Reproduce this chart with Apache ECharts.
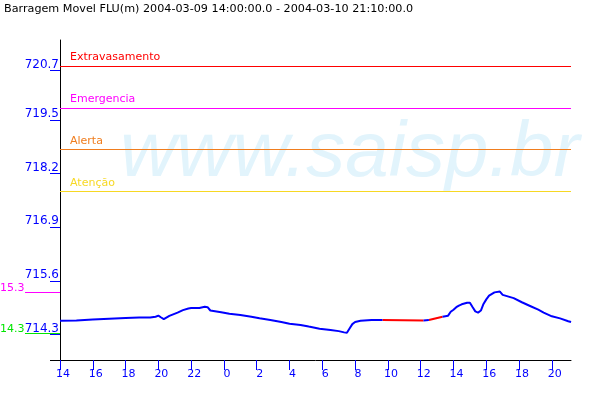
<!DOCTYPE html>
<html><head><meta charset="utf-8">
<script src="https://cdn.jsdelivr.net/npm/echarts@6/dist/echarts.min.js"></script>
<style>html,body{margin:0;padding:0;background:#fff}#c{width:600px;height:400px}</style>
</head><body><div id="c"></div>
<script>
// ---- data ----
const titleText = 'Barragem Movel FLU(m) 2004-03-09 14:00:00.0 - 2004-03-10 21:10:00.0';
const startHour = 14;                 // 2004-03-09 14:00
const spanHours = 31 + 10 / 60;       // until 2004-03-10 21:10
const xTickHours = [0, 2, 4, 6, 8, 10, 12, 14, 16, 18, 20, 22, 24, 26, 28, 30];
const yTickValues = [714.3, 715.6, 716.9, 718.2, 719.5, 720.7];
const yMin = 713.68, yMax = 721.44;
// hours elapsed since start
const hours = [0, 1, 2, 3, 4, 4.83, 5.5, 5.83, 6, 6.17, 6.33, 6.67, 7.17, 7.5, 7.83, 8, 8.5, 8.83, 9, 9.17,
  9.83, 10.33, 11, 11.67, 12.17, 12.83, 13.5, 14, 14.67, 15.17, 15.83, 16.5, 17, 17.33, 17.5, 17.67, 17.83,
  18, 18.33, 19, 19.67, 21, 22.17, 22.5, 23, 23.33, 23.67, 23.83, 24, 24.17, 24.33, 24.5, 24.83, 25, 25.17,
  25.33, 25.5, 25.67, 25.83, 26, 26.17, 26.5, 26.83, 27, 27.67, 28.17, 28.67, 29.17, 29.5, 30, 30.5, 31, 31.17];
// level (m); null = missing reading
const levels = [714.63, 714.64, 714.66, 714.68, 714.70, 714.71, 714.71, 714.73, 714.755, 714.71, 714.67, 714.75, 714.83, 714.89, 714.93, 714.94,
  714.94, 714.97, 714.96, 714.88, 714.84, 714.80, 714.77, 714.73, 714.69, 714.65, 714.60, 714.56, 714.53, 714.49, 714.44, 714.41, 714.38,
  714.35, 714.34, 714.45, 714.55, 714.60, 714.63, 714.65, 714.65, null, 714.64, 714.65, null, 714.73, 714.755, 714.85, 714.90, 714.96,
  715.00, 715.03, 715.07, 715.07, 714.96, 714.86, 714.83, 714.88, 715.04, 715.15, 715.24, 715.32, 715.34, 715.26, 715.18, 715.08,
  714.99, 714.90, 714.83, 714.74, 714.69, 714.62, 714.60];
const thresholdNames = ['Extravasamento', 'Emergencia', 'Alerta', 'Atenção'];
const thresholdValues = [720.81, 719.79, 718.79, 717.77];

// ---- styles ----
const thresholdColors = ['#ff0000', '#ff00ff', '#f07d1e', '#f7d823'];
const BLUE = '#0000ff';
const FONT = 'DejaVu Sans';

const blueData = hours.map((h, i) => [h, levels[i] === null ? null : levels[i]]);
const redData = [];
for (let i = 0; i < levels.length; i++) {
  if (levels[i] === null) {
    let a = i - 1, b = i + 1;
    while (b < levels.length && levels[b] === null) b++;
    if (redData.length) redData.push([hours[i], null]);
    redData.push([hours[a], levels[a]]);
    redData.push([hours[b], levels[b]]);
  }
}
const valid = levels.filter(v => v !== null);
const maxLevel = Math.max(...valid), minLevel = Math.min(...valid);

const chart = echarts.init(document.getElementById('c'), null, {renderer: 'canvas'});
const option = {
  animation: false,
  backgroundColor: '#fff',
  textStyle: {fontFamily: FONT},
  title: {
    text: titleText, left: 4, top: 4, padding: 0,
    textStyle: {fontSize: 11.2, fontWeight: 'normal', color: '#000', fontFamily: FONT}
  },
  grid: {left: 60, right: 29, top: 40, bottom: 40, containLabel: false},
  xAxis: {
    type: 'value', min: 0, max: spanHours,
    axisLine: {show: true, lineStyle: {color: '#000', width: 1}},
    axisTick: {show: true, length: 10, lineStyle: {color: BLUE}, customValues: xTickHours},
    axisLabel: {
      color: BLUE, fontSize: 11, fontFamily: FONT, margin: 9, padding: [0, 0, 0, 6],
      customValues: xTickHours,
      formatter: v => String((startHour + Math.round(v)) % 24)
    },
    splitLine: {show: false}
  },
  yAxis: {
    type: 'value', min: yMin, max: yMax,
    axisLine: {show: true, lineStyle: {color: '#000', width: 1}},
    axisTick: {show: true, length: 10, lineStyle: {color: BLUE}, customValues: yTickValues},
    axisLabel: {
      color: BLUE, fontSize: 12, fontFamily: FONT, margin: 1, verticalAlign: 'bottom',
      customValues: yTickValues,
      formatter: v => v.toFixed(1)
    },
    splitLine: {show: false}
  },
  graphic: [{
    type: 'text', id: 'wm', z: -10, silent: true,
    x: 120, y: 193,
    style: {text: 'www.saisp.br', font: 'italic 78px "Liberation Sans"', fill: '#e2f4fc', textVerticalAlign: 'bottom', verticalAlign: 'bottom'}
  }],
  series: [
    {
      type: 'line', name: 'nivel', data: blueData, showSymbol: false, connectNulls: false,
      lineStyle: {color: BLUE, width: 2}, itemStyle: {color: BLUE}, z: 3,
      markLine: {
        silent: true, symbol: 'none',
        data: thresholdNames.map((n, i) => ({
          yAxis: thresholdValues[i], name: n,
          lineStyle: {color: thresholdColors[i], width: 1, type: 'solid'},
          label: {show: true, formatter: n, position: 'insideStartTop', color: thresholdColors[i],
            fontSize: 11, fontFamily: FONT, distance: [10, 3]}
        }))
      }
    },
    {
      type: 'line', name: 'falha', data: redData, showSymbol: false, connectNulls: false,
      lineStyle: {color: '#ff0000', width: 2}, itemStyle: {color: '#ff0000'}, z: 2
    }
  ]
};
chart.setOption(option);

// min / max markers at the left of the axis
const yMaxPx = chart.convertToPixel({yAxisIndex: 0}, maxLevel);
const yMinPx = chart.convertToPixel({yAxisIndex: 0}, minLevel);
const x0 = chart.convertToPixel({xAxisIndex: 0}, 0);
function marker(id, yPx, val, color) {
  return [
    {type: 'line', id: id + 'l', shape: {x1: 25, y1: yPx, x2: x0, y2: yPx}, style: {stroke: color, lineWidth: 1}, z: 5},
    {type: 'text', id: id + 't', x: 0, y: yPx + 1, style: {text: (val - 700).toFixed(1), fill: color,
      font: '11px "DejaVu Sans"', textAlign: 'left', textVerticalAlign: 'bottom', align: 'left', verticalAlign: 'bottom'}, z: 5}
  ];
}
chart.setOption({graphic: [].concat(
  marker('mx', Math.round(yMaxPx) + 0.5, maxLevel, '#ff00ff'),
  marker('mn', Math.round(yMinPx) + 0.5, minLevel, '#00e600'),
  [{type: 'line', id: 'xext', shape: {x1: x0 - 10, y1: 360.5, x2: x0, y2: 360.5}, style: {stroke: '#000', lineWidth: 1}}]
)});
</script>
</body></html>
